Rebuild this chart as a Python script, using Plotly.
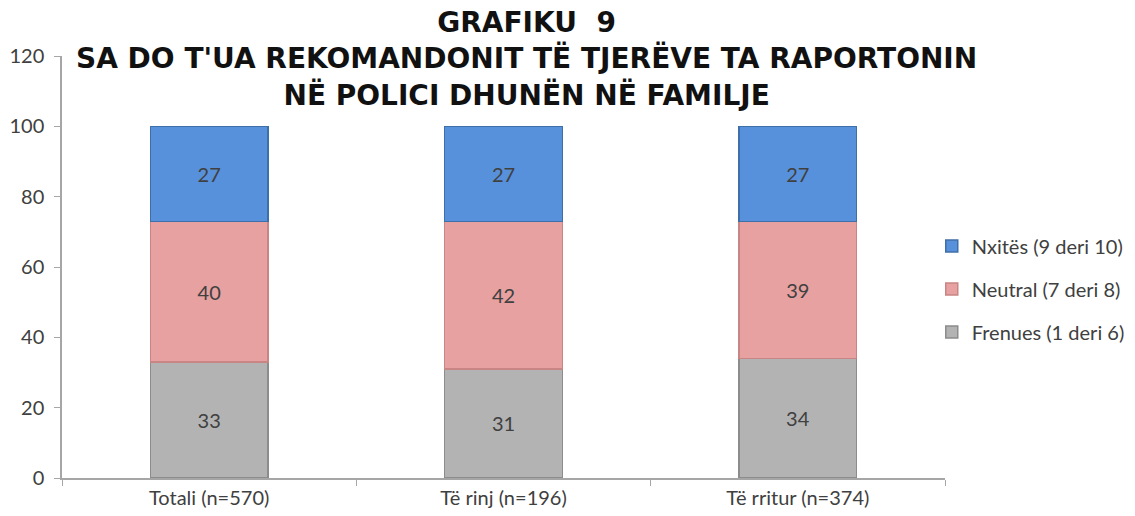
import plotly.graph_objects as go

# Data
categories = ['Totali (n=570)', 'Të rinj (n=196)', 'Të rritur (n=374)']
frenues = [33, 31, 34]
neutral = [40, 42, 39]
nxites = [27, 27, 27]

series = [
    ('Frenues (1 deri 6)', frenues, '#B3B3B3', '#8C8C8C', 3),
    ('Neutral (7 deri 8)', neutral, '#E6A1A0', '#C98584', 2),
    ('Nxitës (9 deri 10)', nxites, '#5891DB', '#3F6FA8', 1),
]

font_family = 'Lato, "Open Sans", sans-serif'

fig = go.Figure()

for i, (name, vals, col, edge, rank) in enumerate(series):
    fig.add_trace(
        go.Bar(
            x=categories,
            y=vals,
            name=name,
            legendgroup=str(i),
            legendrank=rank,
            width=0.4,
            text=vals,
            textposition='inside',
            insidetextanchor='middle',
            textfont=dict(size=20, color='#404040', family=font_family),
            marker=dict(color=col, line=dict(color=edge, width=1.5)),
        )
    )

fig.update_layout(
    barmode='stack',
    width=1135,
    height=516,
    margin=dict(l=62, r=190, t=56, b=38, autoexpand=False),
    paper_bgcolor='white',
    plot_bgcolor='white',
    font=dict(family=font_family, size=20, color='#404040'),
    showlegend=True,
    legend=dict(
        x=0.985, y=0.448, xanchor='left', yanchor='middle',
        traceorder='grouped', tracegroupgap=14, itemwidth=30,
        font=dict(size=20, color='#404040'),
    ),
    xaxis=dict(
        showline=True, linecolor='#A6A6A6', linewidth=1.5,
        ticks='outside', tickson='boundaries', ticklen=6, tickcolor='#A6A6A6',
        range=[-0.5, 2.5], automargin=False, ticklabelstandoff=1,
        tickfont=dict(size=20, color='#404040'),
    ),
    yaxis=dict(
        range=[0, 120], dtick=20,
        showline=True, linecolor='#A6A6A6', linewidth=1.5,
        ticks='outside', ticklen=6, tickcolor='#A6A6A6',
        showgrid=False, zeroline=False, automargin=False, ticklabelstandoff=6,
        tickfont=dict(size=20, color='#404040'),
    ),
)

fig.add_annotation(
    text='<b>GRAFIKU  9</b><br><b>SA DO T\'UA REKOMANDONIT TË TJERËVE TA RAPORTONIN</b><br><b>NË POLICI DHUNËN NË FAMILJE</b>',
    xref='paper', yref='paper',
    x=(526 - 62) / 883, y=(478 - 59) / 422,
    xanchor='center', yanchor='middle',
    showarrow=False,
    font=dict(size=28, color='#111111', family='"DejaVu Sans", sans-serif'),
)

# remove the default page margin so the figure sits at the window origin
fig.write_html('out.html', config={'displayModeBar': False},
               post_script="document.body.style.margin='0';")
